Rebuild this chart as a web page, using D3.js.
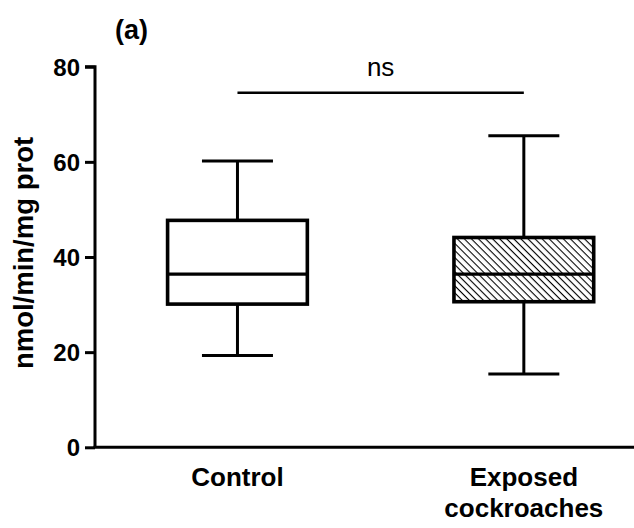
<!DOCTYPE html>
<html>
<head>
<meta charset="utf-8">
<script src="https://cdn.jsdelivr.net/npm/d3@7"></script>
<style>
  html, body { margin: 0; padding: 0; background: #fff; }
  svg text { font-family: "Liberation Sans", Arial, sans-serif; }
</style>
</head>
<body>
<svg id="chart" width="634" height="528"></svg>
<script>
// Groups and their five-number summaries (whisker min, Q1, median, Q3, whisker max)
const groups = ["Control", "Exposed cockroaches"];
const groupLines = [["Control"], ["Exposed", "cockroaches"]];
const whiskerMin = [19.3, 15.4];
const q1 = [30.1, 30.6];
const median = [36.4, 36.4];
const q3 = [47.7, 44.1];
const whiskerMax = [60.2, 65.5];
const hatched = [false, true];
const yTicks = [0, 20, 40, 60, 80];
const sigLabel = "ns";
const sigLevel = 74.5;

const svg = d3.select("#chart");
const margin = { left: 95, right: 0, top: 66.7, bottom: 80.7 };
const W = 634, H = 528;

const y = d3.scaleLinear().domain([0, 80]).range([H - margin.bottom, margin.top]);
// Band layout extends past the right edge; the plot is clipped by the page width
const x = d3.scaleBand().domain(groups).range([margin.left, 666.3]).paddingInner(0.505).paddingOuter(0.25);

// Diagonal hatch pattern (lines running top-left to bottom-right)
const defs = svg.append("defs");
const pat = defs.append("pattern")
  .attr("id", "hatch")
  .attr("patternUnits", "userSpaceOnUse")
  .attr("width", 5).attr("height", 5)
  .attr("patternTransform", "rotate(45)");
pat.append("rect").attr("width", 5).attr("height", 5).attr("fill", "#fff");
pat.append("line").attr("x1", 0).attr("y1", 0).attr("x2", 5).attr("y2", 0)
  .attr("stroke", "#000").attr("stroke-width", 2.2);

// Y axis
const yAxis = svg.append("g")
  .attr("transform", `translate(${margin.left},0)`)
  .call(d3.axisLeft(y).tickValues(yTicks).tickSize(10).tickPadding(5));
yAxis.select(".domain").attr("stroke-width", 3).attr("d", `M-10,${y(80)}H0V${y(0)}`);
yAxis.selectAll(".tick line").attr("stroke-width", 3);
yAxis.selectAll(".tick text")
  .attr("font-size", 24).attr("font-weight", "bold").attr("fill", "#000")
  .attr("dy", "0.35em")
  .style("font-family", "'Liberation Sans', Arial, sans-serif");

// X axis line
svg.append("line")
  .attr("x1", margin.left - 1.5).attr("x2", W)
  .attr("y1", y(0)).attr("y2", y(0))
  .attr("stroke", "#000").attr("stroke-width", 3);

// Category labels
groups.forEach((g, i) => {
  const cx = x(g) + x.bandwidth() / 2;
  const t = svg.append("text")
    .attr("x", cx).attr("y", 486)
    .attr("text-anchor", "middle")
    .attr("font-size", 26).attr("font-weight", "bold");
  groupLines[i].forEach((ln, j) => {
    t.append("tspan").attr("x", cx).attr("dy", j === 0 ? 0 : 31).text(ln);
  });
});

// Boxes and whiskers
const capHalf = 35.5;
groups.forEach((g, i) => {
  const x0 = x(g), bw = x.bandwidth(), cx = x0 + bw / 2;
  const gg = svg.append("g").attr("stroke", "#000").attr("stroke-width", 3);
  gg.append("line").attr("x1", cx).attr("x2", cx).attr("y1", y(whiskerMax[i])).attr("y2", y(q3[i]));
  gg.append("line").attr("x1", cx).attr("x2", cx).attr("y1", y(q1[i])).attr("y2", y(whiskerMin[i]));
  gg.append("line").attr("x1", cx - capHalf).attr("x2", cx + capHalf).attr("y1", y(whiskerMax[i])).attr("y2", y(whiskerMax[i]));
  gg.append("line").attr("x1", cx - capHalf).attr("x2", cx + capHalf).attr("y1", y(whiskerMin[i])).attr("y2", y(whiskerMin[i]));
  gg.append("rect")
    .attr("x", x0 + 1).attr("width", bw - 2)
    .attr("y", y(q3[i])).attr("height", y(q1[i]) - y(q3[i]))
    .attr("stroke-width", 3.6)
    .attr("fill", hatched[i] ? "url(#hatch)" : "#fff");
  gg.append("line").attr("x1", x0).attr("x2", x0 + bw).attr("y1", y(median[i])).attr("y2", y(median[i]))
    .attr("stroke-width", 3.3);
});

// Significance bar
const c0 = x(groups[0]) + x.bandwidth() / 2;
const c1 = x(groups[1]) + x.bandwidth() / 2;
svg.append("line")
  .attr("x1", c0).attr("x2", c1)
  .attr("y1", y(sigLevel)).attr("y2", y(sigLevel))
  .attr("stroke", "#000").attr("stroke-width", 2.5);
svg.append("text")
  .attr("x", (c0 + c1) / 2).attr("y", 76)
  .attr("text-anchor", "middle").attr("font-size", 26)
  .text(sigLabel);

// Y axis title
svg.append("text")
  .attr("transform", `translate(33,${(y(0) + y(80)) / 2 - 4}) rotate(-90)`)
  .attr("text-anchor", "middle")
  .attr("font-size", 27.5).attr("font-weight", "bold")
  .text("nmol/min/mg prot");

// Panel letter
svg.append("text")
  .attr("x", 115).attr("y", 39)
  .attr("font-size", 27).attr("font-weight", "bold")
  .text("(a)");
</script>
</body>
</html>
